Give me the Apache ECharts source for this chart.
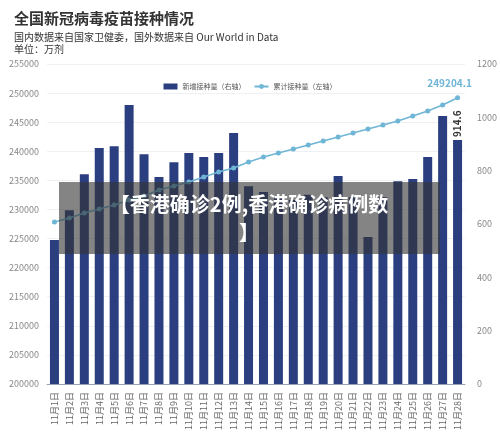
<!DOCTYPE html>
<html><head><meta charset="utf-8">
<script src="https://cdn.jsdelivr.net/npm/echarts@6/dist/echarts.min.js"></script>
<style>html,body{margin:0;padding:0;background:#fff}#c{width:500px;height:437px}</style>
</head><body><div id="c"></div>
<script>
const categories = Array.from({length:28},(_,i)=>'11月'+(i+1)+'日');
const newDoses = [540,652,787,885,892,1046,862,776,832,866,851,866,941,742,720,700,690,710,700,780,700,551,700,760,769,851,1005,914.6];
const cumDoses = [227844,228531,229391,230078,230766,231625,232313,233344,234031,234719,235578,236438,237125,238156,239016,239703,240391,241078,241766,242453,243141,243828,244516,245203,246063,246922,247953,249204.1];
const font = '"Noto Sans CJK SC", sans-serif';
const chart = echarts.init(document.getElementById('c'));
chart.setOption({
  animation:false,
  textStyle:{fontFamily:font},
  title:{text:'全国新冠病毒疫苗接种情况',left:9,top:6,textStyle:{fontSize:15,fontWeight:'bold',color:'#333',fontFamily:font},
    subtext:'国内数据来自国家卫健委，国外数据来自 Our World in Data\n单位：万剂',subtextStyle:{fontSize:10,color:'#333',lineHeight:12,fontFamily:font},itemGap:5},
  legend:{top:78,left:'center',itemWidth:14,itemHeight:6,textStyle:{fontSize:7,color:'#555'},
    data:[{name:'新增接种量（右轴）',icon:'rect'},{name:'累计接种量（左轴）'}]},
  grid:{left:47,right:33,top:64,bottom:53},
  xAxis:{type:'category',data:categories,axisTick:{show:false},axisLine:{lineStyle:{color:'#9aa0b5'}},
    axisLabel:{rotate:90,fontSize:9,color:'#666',interval:0}},
  yAxis:[
    {type:'value',min:200000,max:255000,interval:5000,position:'left',axisLabel:{fontSize:9,color:'#888',formatter:v=>String(v)},splitLine:{lineStyle:{color:'#eef0f4'}}},
    {type:'value',min:0,max:1200,interval:200,position:'right',axisLabel:{fontSize:9,color:'#888',margin:12,formatter:v=>String(v)},splitLine:{show:false}}
  ],
  series:[
    {name:'新增接种量（右轴）',type:'bar',yAxisIndex:1,data:newDoses,barWidth:9,itemStyle:{color:'#2b3f80'},
      label:{show:true,formatter:p=>p.dataIndex===27?String(p.value):'',position:'top',rotate:90,align:'left',verticalAlign:'middle',distance:3,fontSize:10,color:'#333',fontWeight:'bold'}},
    {name:'累计接种量（左轴）',type:'line',yAxisIndex:0,data:cumDoses,symbol:'circle',symbolSize:5,
      itemStyle:{color:'#6fb5d6'},lineStyle:{color:'#6fb5d6',width:1.5},
      label:{show:true,formatter:p=>p.dataIndex===27?String(p.value):'',position:'top',fontSize:10,color:'#6fb5d6',fontWeight:'bold',offset:[-8,-2]}}
  ],
  graphic:[
    {type:'rect',shape:{x:59,y:182,width:381,height:72},style:{fill:'rgba(50,50,50,0.6)'},z:100},
    {type:'text',x:249,y:218,style:{text:'【香港确诊2例,香港确诊病例数\n】',fill:'#fff',fontSize:20,fontWeight:'bold',fontFamily:font,align:'center',verticalAlign:'middle',lineHeight:28},z:101}
  ]
});
</script></body></html>
